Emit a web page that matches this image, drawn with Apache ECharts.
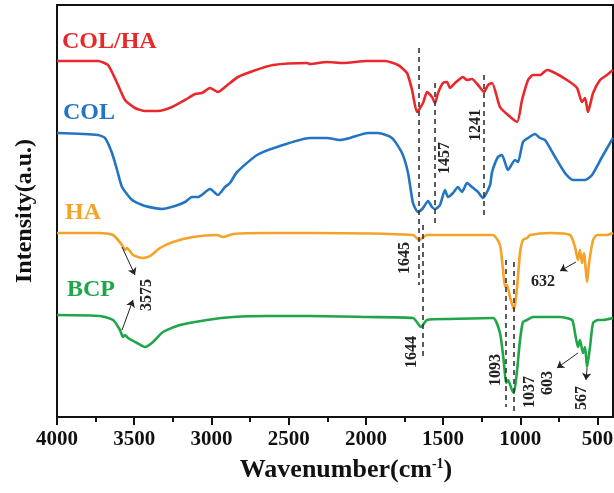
<!DOCTYPE html>
<html>
<head>
<meta charset="utf-8">
<script src="https://cdn.jsdelivr.net/npm/echarts@6/dist/echarts.min.js"></script>
<style>
html, body { margin: 0; padding: 0; background: #fff; }
#ftir { width: 614px; height: 493px; }
</style>
</head>
<body>
<div id="ftir"></div>
<script>
// wavenumbers (cm-1) and offset intensities
const colHaWn = [4000,3735,3670,3611,3560,3495,3430,3346,3255,3171,3106,3061,3009,2958,2912,2880,2828,2731,2601,2381,2362,2252,2148,1993,1876,1792,1734,1701,1669,1630,1604,1572,1552,1533,1501,1475,1455,1423,1371,1345,1313,1274,1235,1209,1183,1132,1080,1021,989,950,918,873,827,788,698,633,601,581,562,529,484,439,400];
const colHaVal = [356,356,352,334,317,309,306,306,310,317,323,324,329,325,330,334,340,346,352,354,353,355,354,356,356,352,344,327,305,314,325,320,314,324,334,335,329,334,340,337,338,332,325,332,334,310,302,295,317,337,342,342,347,345,337,329,315,319,305,324,337,342,347];

const colWn = [4000,3735,3689,3644,3611,3579,3514,3430,3320,3236,3171,3126,3087,3009,2958,2912,2880,2834,2705,2575,2362,2252,2168,2103,1986,1922,1831,1766,1727,1695,1663,1630,1598,1572,1552,1520,1488,1468,1436,1404,1378,1345,1313,1274,1242,1196,1183,1145,1119,1080,1034,1015,983,950,905,873,840,775,711,659,581,536,471,400];
const colVal = [284,282,279,264,247,230,217,211,208,211,215,220,220,228,222,230,234,245,262,270,279,279,277,279,284,284,279,264,244,214,205,209,216,210,208,212,227,220,224,230,225,234,230,225,219,232,245,260,262,247,257,255,275,279,283,279,277,260,244,237,237,242,260,279];

const haWn = [4000,3722,3637,3579,3560,3547,3508,3443,3398,3333,3249,3119,2964,2925,2860,2640,2362,1695,1656,1604,1455,1177,1132,1112,1099,1086,1067,1041,1021,1002,983,957,937,808,678,646,627,614,601,588,568,555,529,503,439,400];
const haVal = [184,184,182,172,167,169,162,159,161,169,175,180,182,180,183,184,184,182,177,182,182,182,172,147,130,132,120,107,130,164,177,179,182,184,182,170,157,167,154,164,135,154,177,182,182,184];

const bcpWn = [4000,3722,3637,3592,3573,3560,3540,3482,3430,3378,3314,3204,3029,2860,2640,2362,1993,1695,1643,1604,1455,1177,1132,1106,1093,1080,1054,1041,1021,1002,983,957,918,743,665,646,627,614,594,581,568,549,529,497,465,400];
const bcpVal = [102,101,97,87,80,82,79,74,70,75,85,92,97,100,101,101,100,99,90,97,98,99,84,54,34,37,27,24,47,77,95,97,100,100,97,84,70,77,64,70,50,70,94,97,97,99];

const majorTicks = [4000,3500,3000,2500,2000,1500,1000,500];
const minorTicks = [3750,3250,2750,2250,1750,1250,750];

// dashed reference lines: [wavenumber, top, bottom]
const guideLines = [[1655,369,132],[1630,192,59],[1552,334,190],[1235,342,200],[1093,157,10],[1045,155,5]];
// arrows: [from wn, from val, to wn, to val]
const arrows = [[3579,170,3495,142],[3579,87,3508,117],[640,155,743,146],[627,64,763,49],[568,49,575,37]];
// peak labels: [text, wn, val, rotated]
const peakLabels = [
  ['1457',1488,259,true],['1241',1287,292,true],['1645',1747,159,true],['1644',1701,65,true],
  ['1093',1157,47,true],['1037',937,25,true],['603',821,34,true],['567',601,19,true],
  ['632',853,135,false],['3575',3417,122,true]
];

const serif = '"Liberation Serif", "Times New Roman", serif';
const zip = (xs, ys) => xs.map((x, i) => [x, ys[i]]);

function line(name, color, wn, val, extra) {
  return Object.assign({
    name: name,
    type: 'line',
    data: zip(wn, val),
    smooth: 0.2,
    showSymbol: false,
    lineStyle: { color: color, width: 2.6 },
    itemStyle: { color: color }
  }, extra || {});
}

const myChart = echarts.init(document.getElementById('ftir'));

const option = {
  animation: false,
  grid: {
    left: 57, right: 1, top: 5, bottom: 76,
    containLabel: false, outerBoundsMode: 'none',
    show: true, borderColor: '#111', borderWidth: 2
  },
  xAxis: [{
    type: 'value', min: 400, max: 4000, inverse: true,
    name: 'Wavenumber(cm{sup|-1})', nameLocation: 'middle', nameGap: 40,
    nameTextStyle: {
      fontFamily: serif, fontWeight: 'bold', fontSize: 26, color: '#111', padding: [0, 0, 0, 22],
      rich: { sup: { fontFamily: serif, fontWeight: 'bold', fontSize: 14, color: '#111', verticalAlign: 'top' } }
    },
    axisLine: { lineStyle: { color: '#111', width: 2 } },
    axisTick: { customValues: majorTicks, length: 8, lineStyle: { color: '#111', width: 2 } },
    axisLabel: {
      customValues: majorTicks, formatter: v => String(v),
      fontFamily: serif, fontWeight: 'bold', fontSize: 21, color: '#111', margin: 12
    },
    splitLine: { show: false }
  }, {
    type: 'value', min: 400, max: 4000, inverse: true, position: 'bottom',
    axisLine: { show: false },
    axisTick: { customValues: minorTicks, length: 5, lineStyle: { color: '#111', width: 2 } },
    axisLabel: { show: false },
    splitLine: { show: false }
  }],
  yAxis: {
    type: 'value', min: 0, max: 412,
    name: 'Intensity(a.u.)', nameLocation: 'middle', nameGap: 20,
    nameTextStyle: { fontFamily: serif, fontWeight: 'bold', fontSize: 24, color: '#111' },
    axisLine: { show: true, lineStyle: { color: '#111', width: 2 } },
    axisTick: { show: false },
    axisLabel: { show: false },
    splitLine: { show: false }
  },
  series: [
    line('COL/HA', '#e8282a', colHaWn, colHaVal, {
      markLine: {
        silent: true, symbol: 'none', label: { show: false },
        lineStyle: { color: '#333', type: [5, 4], width: 1.6 },
        data: guideLines.map(g => [{ coord: [g[0], g[1]] }, { coord: [g[0], g[2]] }])
      }
    }),
    line('COL', '#2474c4', colWn, colVal),
    line('HA', '#f5a228', haWn, haVal, {
      markLine: {
        silent: true, symbol: ['none', 'arrow'], symbolSize: 7, label: { show: false },
        lineStyle: { color: '#222', type: 'solid', width: 1 },
        data: arrows.map(a => [{ coord: [a[0], a[1]] }, { coord: [a[2], a[3]] }])
      }
    }),
    line('BCP', '#20a648', bcpWn, bcpVal)
  ]
};

myChart.setOption(option);

const seriesNames = [
  ['COL/HA', '#e8282a', 62, 42],
  ['COL', '#2474c4', 63, 113],
  ['HA', '#f5a228', 65, 213],
  ['BCP', '#20a648', 67, 290]
];

const graphics = seriesNames.map(s => ({
  type: 'text', x: s[2], y: s[3],
  style: { text: s[0], fill: s[1], font: 'bold 24px ' + serif, align: 'left', verticalAlign: 'middle' }
}));

peakLabels.forEach(p => {
  const pt = myChart.convertToPixel({ xAxisIndex: 0, yAxisIndex: 0 }, [p[1], p[2]]);
  graphics.push({
    type: 'text', x: pt[0], y: pt[1], rotation: p[3] ? Math.PI / 2 : 0,
    style: { text: p[0], fill: '#222', font: 'bold 16px ' + serif, align: 'center', verticalAlign: 'middle' }
  });
});

myChart.setOption({ graphic: graphics });
</script>
</body>
</html>
